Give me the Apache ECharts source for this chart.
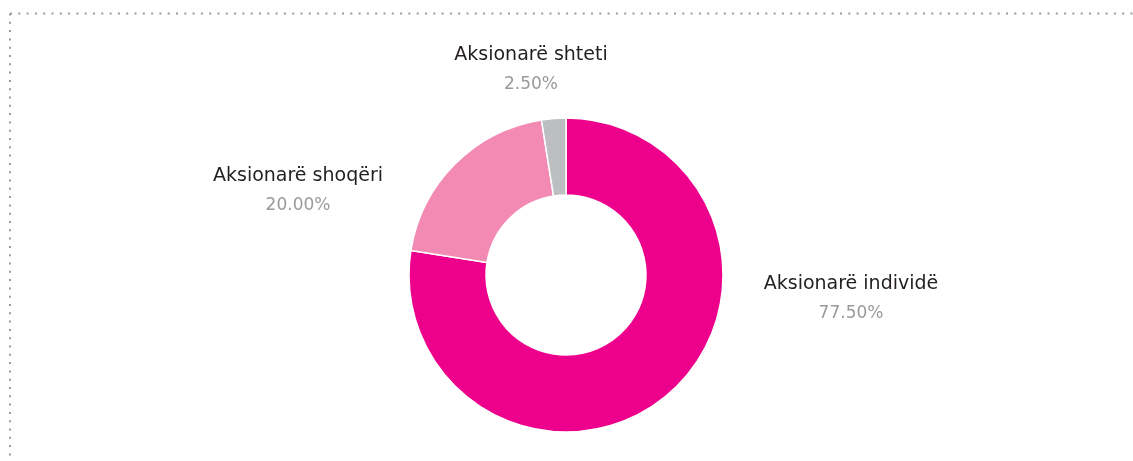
<!DOCTYPE html>
<html>
<head>
<meta charset="utf-8">
<script src="https://cdn.jsdelivr.net/npm/echarts@6/dist/echarts.min.js"></script>
<style>
  html, body { margin: 0; padding: 0; background: #fff; }
  #main { width: 1133px; height: 461px; }
</style>
</head>
<body>
<div id="main"></div>
<script>
var categories = ['Aksionarë individë', 'Aksionarë shoqëri', 'Aksionarë shteti'];
var shares = [77.5, 20.0, 2.5];
var colors = ['#EC008C', '#F28AB4', '#BCBEC0'];

// where each label block sits (centre of the two lines)
var labelSpots = [[851, 299], [298, 191], [531, 70]];

var chartDom = document.getElementById('main');
var myChart = echarts.init(chartDom);

var option = {
  animation: false,
  graphic: [
    {
      type: 'line',
      shape: { x1: 10, y1: 13.5, x2: 1133, y2: 13.5 },
      style: { stroke: '#9c9c9c', lineWidth: 2, lineDash: [2, 6.3] }
    },
    {
      type: 'line',
      shape: { x1: 10, y1: 13.5, x2: 10, y2: 461 },
      style: { stroke: '#9c9c9c', lineWidth: 2, lineDash: [2, 6.3] }
    }
  ],
  series: [
    {
      type: 'pie',
      center: [566, 275],
      radius: [80, 157],
      startAngle: 90,
      clockwise: true,
      itemStyle: { borderColor: '#fff', borderWidth: 1.5 },
      labelLine: { show: false },
      label: {
        show: true,
        position: 'outside',
        formatter: function (p) {
          return '{n|' + p.name + '}\n{v|' + p.value.toFixed(2) + '%}';
        },
        rich: {
          n: { fontFamily: 'DejaVu Sans', fontSize: 19, color: '#231f20', lineHeight: 30, align: 'center' },
          v: { fontFamily: 'DejaVu Sans', fontSize: 17, color: '#9a9a9a', lineHeight: 30, align: 'center' }
        }
      },
      labelLayout: function (params) {
        var s = labelSpots[params.dataIndex];
        return { x: s[0], y: s[1], align: 'center', verticalAlign: 'middle' };
      },
      emphasis: { disabled: true },
      data: categories.map(function (c, i) {
        return { name: c, value: shares[i], itemStyle: { color: colors[i] } };
      })
    }
  ]
};

myChart.setOption(option);
</script>
</body>
</html>
